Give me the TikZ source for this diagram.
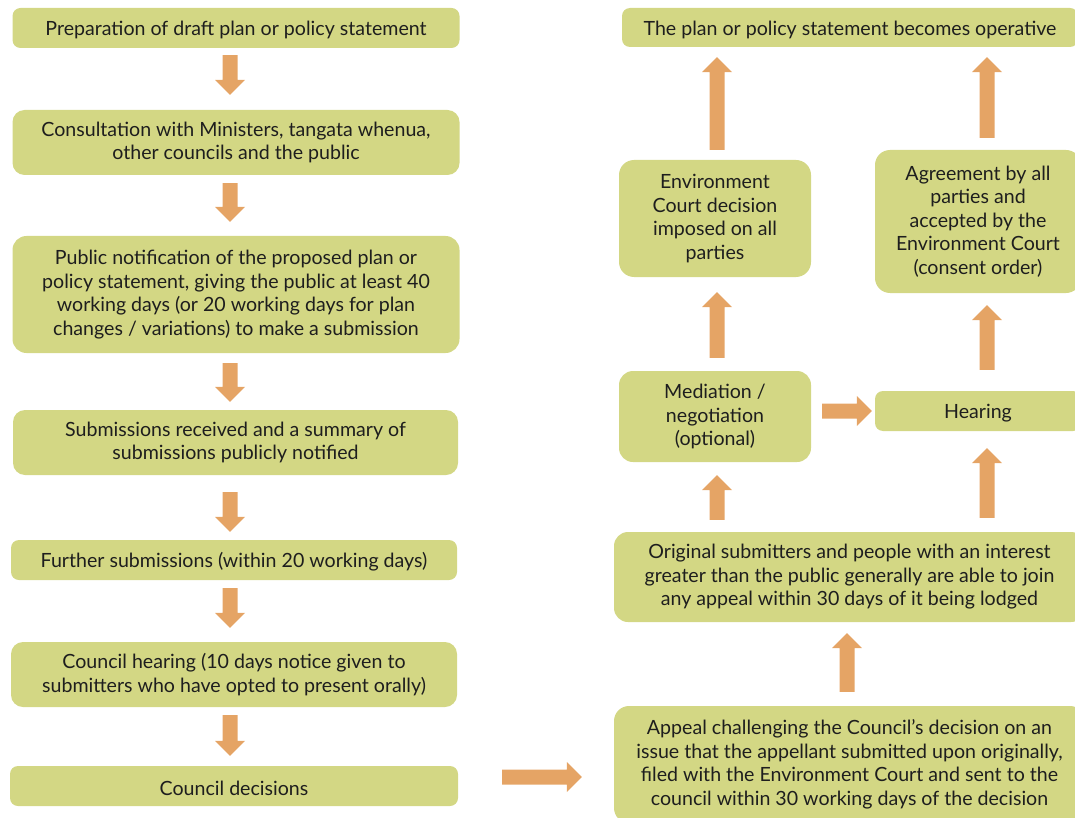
\documentclass[tikz,border=0pt]{standalone}
\usepackage{fontspec}
\setmainfont{Lato}
\usetikzlibrary{calc}
\definecolor{boxc}{HTML}{D3D784}
\definecolor{arrowc}{HTML}{E5A465}
\definecolor{txt}{HTML}{1E1E1E}
\tikzset{
  box/.style={fill=boxc, rounded corners=#1, align=center, inner sep=0pt,
    text=txt, font=\fontsize{19.6}{23.5}\selectfont,
    execute at begin node={\rule{0pt}{18.5pt}}},
  box/.default=8pt,
  blkdown/.style={fill=arrowc, to path={let \p1=(\tikztostart), \p2=(\tikztotarget) in
    (\x1-7.5pt,\y1) -- (\x1+7.5pt,\y1) -- (\x1+7.5pt,\y2+15pt) -- (\x1+15pt,\y2+15pt)
    -- (\x1,\y2) -- (\x1-15pt,\y2+15pt) -- (\x1-7.5pt,\y2+15pt) -- cycle}},
  blkup/.style={fill=arrowc, to path={let \p1=(\tikztostart), \p2=(\tikztotarget) in
    (\x1-7.5pt,\y1) -- (\x1+7.5pt,\y1) -- (\x1+7.5pt,\y2-15pt) -- (\x1+15pt,\y2-15pt)
    -- (\x1,\y2) -- (\x1-15pt,\y2-15pt) -- (\x1-7.5pt,\y2-15pt) -- cycle}},
  blkright/.style={fill=arrowc, to path={let \p1=(\tikztostart), \p2=(\tikztotarget) in
    (\x1,\y1-7.5pt) -- (\x2-15pt,\y1-7.5pt) -- (\x2-15pt,\y1-15pt) -- (\x2,\y1)
    -- (\x2-15pt,\y1+15pt) -- (\x2-15pt,\y1+7.5pt) -- (\x1,\y1+7.5pt) -- cycle}},
}
\begin{document}
\begin{tikzpicture}[x=1pt,y=-1pt]
\useasboundingbox (0,0) rectangle (1075,818);

% arrow axes
\coordinate (xl) at (230,0);
\coordinate (xm) at (717,0);
\coordinate (xr) at (987,0);
\coordinate (xc) at (847,0);

% left column: preparation of the plan
\node[box, minimum width=447pt, minimum height=40pt] (p1) at (236,28)
  {Preparation of draft plan or policy statement};
\node[box=12pt, minimum width=447pt, minimum height=65pt] (p2) at (236,142.5)
  {Consultation with Ministers, tangata whenua,\\other councils and the public};
\node[box=14pt, minimum width=447pt, minimum height=117pt] (p3) at (236,294.5)
  {Public notification of the proposed plan or\\policy statement, giving the public at least 40\\working days (or 20 working days for plan\\changes / variations) to make a submission};
\node[box=12pt, minimum width=445pt, minimum height=65pt] (p4) at (235.5,442.5)
  {Submissions received and a summary of\\submissions publicly notified};
\node[box, minimum width=446pt, minimum height=40pt] (p5) at (234,560)
  {Further submissions (within 20 working days)};
\node[box=12pt, minimum width=446pt, minimum height=65pt] (p6) at (234,674.5)
  {Council hearing (10 days notice given to\\submitters who have opted to present orally)};
\node[box, minimum width=448pt, minimum height=40pt] (p7) at (234,786)
  {Council decisions};

% right column: appeals
\node[box, minimum width=456pt, minimum height=39pt] (top) at (850,27.5)
  {The plan or policy statement becomes operative};
\node[box=15pt, minimum width=192pt, minimum height=117pt] (env) at (715,218.5)
  {Environment\\Court decision\\imposed on all\\parties};
\node[box=15pt, minimum width=206pt, minimum height=143pt] (agree) at (978,221.5)
  {Agreement by all\\parties and\\accepted by the\\Environment Court\\(consent order)};
\node[box=14pt, minimum width=192pt, minimum height=91pt] (med) at (715,416.5)
  {Mediation /\\negotiation\\(optional)};
\node[box, minimum width=206pt, minimum height=40pt] (hear) at (978,411)
  {Hearing};
\node[box=14pt, minimum width=471pt, minimum height=90pt] (orig) at (849.5,577)
  {Original submitters and people with an interest\\greater than the public generally are able to join\\any appeal within 30 days of it being lodged};
\node[box=15pt, minimum width=471pt, minimum height=117pt] (appeal) at (849.5,764.5)
  {Appeal challenging the Council's decision on an\\issue that the appellant submitted upon originally,\\filed with the Environment Court and sent to the\\council within 30 working days of the decision};

% connectors, left column
\path[blkdown] ($(p1.south -| xl)+(0,7)$) to ($(p2.north -| xl)+(0,-15)$);
\path[blkdown] ($(p2.south -| xl)+(0,8)$) to ($(p3.north -| xl)+(0,-14)$);
\path[blkdown] ($(p3.south -| xl)+(0,10)$) to ($(p4.north -| xl)+(0,-8)$);
\path[blkdown] ($(p4.south -| xl)+(0,17)$) to ($(p5.north -| xl)+(0,-8)$);
\path[blkdown] ($(p5.south -| xl)+(0,8)$) to ($(p6.north -| xl)+(0,-14)$);
\path[blkdown] ($(p6.south -| xl)+(0,8)$) to ($(p7.north -| xl)+(0,-10)$);

% connectors, across and right column
\path[blkright] ($(p7.east)+(44,-9)$) to ($(appeal.west |- p7.east)+(-32,-9)$);
\path[blkup] ($(appeal.north -| xc)+(0,-14)$) to ($(orig.south -| xc)+(0,11)$);
\path[blkup] ($(orig.north -| xm)+(0,-12)$) to ($(med.south -| xm)+(0,13)$);
\path[blkup] ($(orig.north -| xr)+(0,-14)$) to ($(hear.south -| xr)+(0,17)$);
\path[blkright] ($(med.east |- hear.west)+(11,0)$) to ($(hear.west)+(-3,0)$);
\path[blkup] ($(med.north -| xm)+(0,-13)$) to ($(env.south -| xm)+(0,15)$);
\path[blkup] ($(hear.north -| xr)+(0,-21)$) to ($(agree.south -| xr)+(0,12)$);
\path[blkup] ($(env.north -| xm)+(0,-10)$) to ($(top.south -| xm)+(0,10)$);
\path[blkup] ($(agree.north -| xr)+(0,-12)$) to ($(top.south -| xr)+(0,10)$);
\end{tikzpicture}
\end{document}
